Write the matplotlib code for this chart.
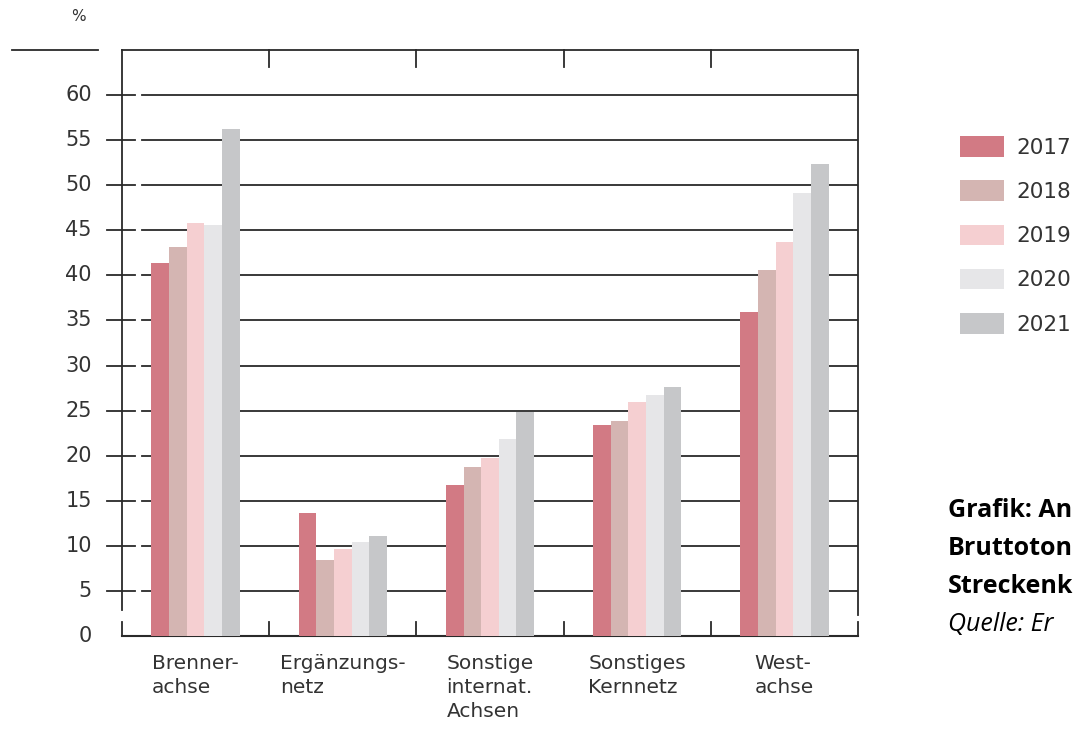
import matplotlib
matplotlib.use("Agg")
import matplotlib.pyplot as plt
import numpy as np
from matplotlib.lines import Line2D

categories = ["Brenner-\nachse", "Ergänzungs-\nnetz", "Sonstige\ninternat.\nAchsen",
              "Sonstiges\nKernnetz", "West-\nachse"]
years = ["2017", "2018", "2019", "2020", "2021"]
values = {
    "2017": [41.4, 13.6, 16.7, 23.4, 35.9],
    "2018": [43.2, 8.4, 18.8, 23.9, 40.6],
    "2019": [45.8, 9.6, 19.7, 26.0, 43.7],
    "2020": [45.6, 10.4, 21.9, 26.7, 49.1],
    "2021": [56.2, 11.1, 24.8, 27.6, 52.4],
}
colors = ["#d27a84", "#d4b5b2", "#f5cfd1", "#e6e6e8", "#c6c7c9"]
yticks = [0, 5, 10, 15, 20, 25, 30, 35, 40, 45, 50, 55, 60]
# the note is cut off at the right edge in the original
note_lines = ["Grafik: An", "Bruttoton", "Streckenk"]
source = "Quelle: Er"

plt.rcParams['font.family'] = ['DejaVu Sans']
W, H = 1076, 731
fig = plt.figure(figsize=(W / 100, H / 100), dpi=100)
ax = fig.add_axes([122 / W, (H - 636) / H, 736 / W, 586 / H])
ax.set_xlim(-0.5, 4.5)
ax.set_ylim(0, 65)
for s in ax.spines.values():
    s.set_visible(False)
ax.set_xticks([])
ax.set_yticks([])

lc = "#2a2a2a"
tc = "#333333"
px = 1 / 736.0  # axes fraction per pixel in x
tr = ax.get_yaxis_transform()

# gridlines, tick marks and labels
for v in yticks:
    ax.text(-30 * px, v, str(v), transform=tr, ha="right", va="center",
            fontsize=15, color=tc)
    if v == 0:
        continue
    ax.add_line(Line2D([20 * px, 1], [v, v], transform=tr, color=lc, lw=1.3, zorder=1))
    ax.add_line(Line2D([-15 * px, 13 * px], [v, v], transform=tr, color=lc, lw=1.3,
                       clip_on=False))

# frame
ax.add_line(Line2D([0, 1], [65, 65], transform=tr, color=lc, lw=1.3, clip_on=False))
ax.add_line(Line2D([-110 * px, -24 * px], [65, 65], transform=tr, color=lc, lw=1.3,
                   clip_on=False))
ax.add_line(Line2D([0, 0], [2.9, 65], transform=tr, color=lc, lw=1.3, clip_on=False))
ax.add_line(Line2D([0, 0], [0, 1.56], transform=tr, color=lc, lw=1.3, clip_on=False))
ax.add_line(Line2D([0, 1], [0, 0], transform=tr, color=lc, lw=1.5, clip_on=False))
ax.add_line(Line2D([1, 1], [2.3, 65], transform=tr, color=lc, lw=1.3, clip_on=False))
ax.add_line(Line2D([1, 1], [0, 1.56], transform=tr, color=lc, lw=1.3, clip_on=False))
for b in [0.5, 1.5, 2.5, 3.5]:
    ax.plot([b, b], [65, 63.1], color=lc, lw=1.3, clip_on=False)
    ax.plot([b, b], [0, 1.56], color=lc, lw=1.3, clip_on=False)

ax.text(-44 * px, 68.7, "%", transform=tr, ha="center", va="center", fontsize=11,
        color=tc)

# bars
x = np.arange(len(categories))
bw = 0.12
handles = []
for i, y in enumerate(years):
    h = ax.bar(x + (i - 2) * bw, values[y], bw, color=colors[i], zorder=2, label=y)
    handles.append(h)

for xi, c in zip(x, categories):
    ax.text(xi, -2.0, c, ha="center", va="top", multialignment="left", fontsize=14.5,
            color=tc, linespacing=1.32)

fig.legend(handles=handles, labels=years, loc="upper left",
           bbox_to_anchor=(960 / W, 1 - 136 / H), frameon=False, fontsize=15.5,
           handlelength=2.05, handleheight=1.1, labelspacing=1.05, handletextpad=0.55,
           borderpad=0, borderaxespad=0, labelcolor=tc)

for txt, base in zip(note_lines + [source], [517, 555, 593, 631]):
    fig.text(948 / W, 1 - base / H, txt, fontsize=18, color="black",
             fontweight="normal" if txt == source else "bold",
             style="italic" if txt == source else "normal",
             family=["Open Sans", "DejaVu Sans"], va="baseline", ha="left")

fig.savefig("out.png", dpi=100)
